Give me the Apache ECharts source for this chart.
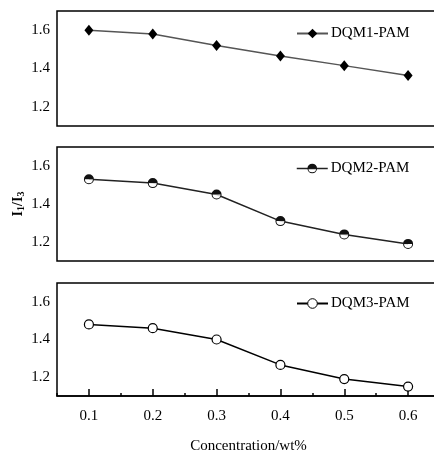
<!DOCTYPE html>
<html>
<head>
<meta charset="utf-8">
<script src="https://cdn.jsdelivr.net/npm/echarts@6/dist/echarts.min.js"></script>
<style>
html,body{margin:0;padding:0;background:#fff;}
#chart{width:434px;height:457px;}
</style>
</head>
<body>
<div id="chart"></div>
<script>
const categories = ['0.1', '0.2', '0.3', '0.4', '0.5', '0.6'];
const dqm1 = [1.60, 1.58, 1.52, 1.465, 1.415, 1.363];
const dqm2 = [1.53, 1.51, 1.45, 1.31, 1.24, 1.19];
const dqm3 = [1.48, 1.46, 1.40, 1.265, 1.19, 1.15];
const seriesNames = ['DQM1-PAM', 'DQM2-PAM', 'DQM3-PAM'];
const yMin = 1.1, yMax = 1.7, yStep = 0.1;
const xName = 'Concentration/wt%';

const FONT = 'Liberation Serif';
const halfCircle = 'path://M0,5 A5,5 0 0 1 10,5 Z M0,5 A5,5 0 0 0 10,5 L9,5 A4,4 0 0 1 1,5 Z';

const chart = echarts.init(document.getElementById('chart'), null, {renderer: 'canvas'});

const grids = [
  {left: 57, width: 383, top: 11, height: 115},
  {left: 57, width: 383, top: 147, height: 114},
  {left: 57, width: 383, top: 283, height: 113}
].map(g => Object.assign({show: true, borderColor: '#000', borderWidth: 1.5, backgroundColor: 'transparent', outerBoundsMode: 'none', containLabel: false}, g));

function yAxis(i, extra) {
  return Object.assign({
    type: 'value', gridIndex: i, min: yMin, max: yMax, interval: yStep,
    axisLine: {show: false}, axisTick: {show: false}, splitLine: {show: false},
    axisLabel: {
      margin: 7, color: '#000', fontFamily: FONT, fontSize: 15,
      formatter: v => {
        const r = Math.round(v * 10);
        return (r % 2 === 0 && r >= 12 && r <= 16) ? (r / 10).toFixed(1) : '';
      }
    }
  }, extra || {});
}

const xAxes = [
  {type: 'category', gridIndex: 0, data: categories, show: false},
  {type: 'category', gridIndex: 1, data: categories, show: false},
  {type: 'category', gridIndex: 2, data: categories, position: 'bottom',
    axisLine: {show: true, lineStyle: {color: '#000', width: 1.5}},
    axisTick: {show: true, alignWithLabel: true, inside: true, length: 7, lineStyle: {color: '#000', width: 1.5}},
    axisLabel: {color: '#000', fontFamily: FONT, fontSize: 15, margin: 13},
    name: xName, nameLocation: 'middle', nameGap: 43, nameMoveOverlap: false,
    nameTextStyle: {color: '#000', fontFamily: FONT, fontSize: 15}
  },
  {type: 'category', gridIndex: 2, data: categories, position: 'bottom',
    axisLine: {show: false},
    axisTick: {show: true, alignWithLabel: false, inside: true, length: 3, lineStyle: {color: '#000', width: 1.5}},
    axisLabel: {show: false}
  }
];

const yAxes = [
  yAxis(0),
  yAxis(1, {
    name: '{a|I}{s|1}{a|/I}{s|3}', nameLocation: 'middle', nameRotate: 90, nameGap: 31, nameMoveOverlap: false,
    nameTextStyle: {
      rich: {
        a: {fontFamily: FONT, fontSize: 14, fontWeight: 'bold', color: '#000', lineHeight: 16},
        s: {fontFamily: FONT, fontSize: 10, fontWeight: 'bold', color: '#000', verticalAlign: 'bottom', lineHeight: 16, padding: [6, 0, 0, 0]}
      }
    }
  }),
  yAxis(2)
];

const legendBase = {
  orient: 'horizontal', padding: 0, itemWidth: 31, itemHeight: 12, itemGap: 0,
  textStyle: {color: '#000', fontFamily: FONT, fontSize: 15, padding: [0, 0, 0, -2]},
  selectedMode: false
};

const option = {
  backgroundColor: '#fff',
  animation: false,
  grid: grids,
  xAxis: xAxes,
  yAxis: yAxes,
  legend: [
    Object.assign({}, legendBase, {left: 296, top: 26, data: [seriesNames[0]]}),
    Object.assign({}, legendBase, {left: 296, top: 161, data: [{name: seriesNames[1], lineStyle: {opacity: 1, color: '#222', width: 1.5}}]}),
    Object.assign({}, legendBase, {left: 296, top: 296, data: [{name: seriesNames[2], itemStyle: {borderWidth: 1, borderColor: '#000', color: '#fff'}}]})
  ],
  series: [
    {
      name: seriesNames[0], type: 'line', xAxisIndex: 0, yAxisIndex: 0, data: dqm1,
      symbol: 'diamond', symbolSize: [9, 11],
      lineStyle: {color: '#555', width: 1.5},
      itemStyle: {color: '#000', borderWidth: 0}
    },
    {
      name: '_line2', type: 'line', xAxisIndex: 1, yAxisIndex: 1, data: dqm2,
      symbol: 'none', z: 2, silent: true,
      lineStyle: {color: '#222', width: 1.5}
    },
    {
      name: '_bg2', type: 'scatter', xAxisIndex: 1, yAxisIndex: 1, data: dqm2,
      symbol: 'circle', symbolSize: 9, z: 3, silent: true,
      itemStyle: {color: '#fff', borderWidth: 0}
    },
    {
      name: seriesNames[1], type: 'line', xAxisIndex: 1, yAxisIndex: 1, data: dqm2,
      symbol: halfCircle, symbolSize: 10, z: 4,
      lineStyle: {color: '#222', width: 1.5, opacity: 0},
      itemStyle: {color: '#111', borderWidth: 0}
    },
    {
      name: seriesNames[2], type: 'line', xAxisIndex: 2, yAxisIndex: 2, data: dqm3,
      symbol: 'circle', symbolSize: 9,
      lineStyle: {color: '#000', width: 1.5},
      itemStyle: {color: '#fff', borderColor: '#000', borderWidth: 1.2}
    }
  ]
};
chart.setOption(option);
</script>
</body>
</html>
